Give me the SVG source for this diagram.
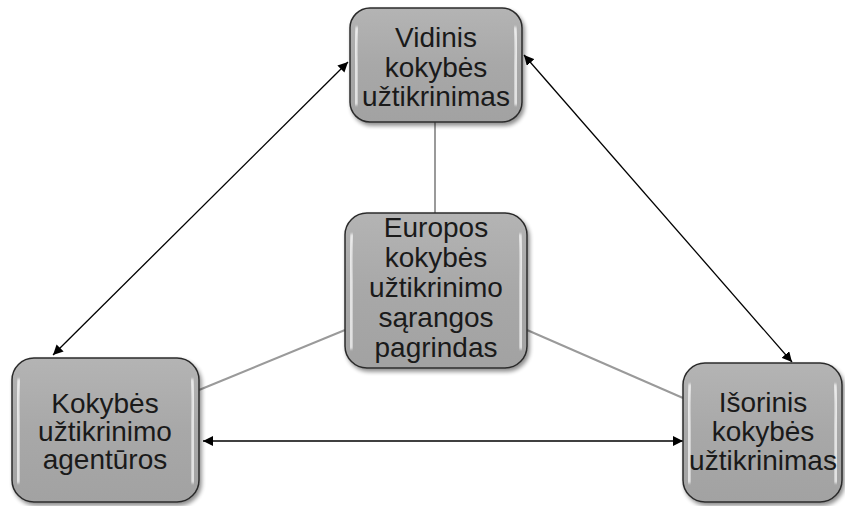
<svg xmlns="http://www.w3.org/2000/svg" width="845" height="506" viewBox="0 0 845 506">
<defs>
  <linearGradient id="fillg" x1="0" y1="0" x2="0" y2="1">
    <stop offset="0" stop-color="#b4b4b4"/>
    <stop offset="0.5" stop-color="#a8a8a8"/>
    <stop offset="1" stop-color="#a2a2a2"/>
  </linearGradient>
  <filter id="shadow" x="-10%" y="-10%" width="125%" height="125%">
    <feGaussianBlur in="SourceAlpha" stdDeviation="2"/>
    <feOffset dx="2" dy="3" result="b"/>
    <feComponentTransfer><feFuncA type="linear" slope="0.45"/></feComponentTransfer>
    <feMerge><feMergeNode/><feMergeNode in="SourceGraphic"/></feMerge>
  </filter>
  <filter id="soft"><feGaussianBlur stdDeviation="0.8"/></filter>
  <marker id="ah" viewBox="0 0 10 10" refX="10" refY="5" markerWidth="10" markerHeight="10" markerUnits="userSpaceOnUse" orient="auto-start-reverse">
    <path d="M0,0 L10,5 L0,10 Z" fill="#000"/>
  </marker>
</defs>
<style>
  .box { fill: url(#fillg); stroke: #2b2b2b; stroke-width: 1.5; filter: url(#shadow); }
  .hl { fill: none; stroke: #ffffff; stroke-width: 3; stroke-linecap: round; opacity: 0.9; filter: url(#soft); }
  .lbl { font-family: "Liberation Sans", Arial, sans-serif; font-size: 28px; fill: #1a1a1a; text-anchor: middle; }
  .gl { stroke: #9a9a9a; stroke-width: 2; fill: none; }
  .ar { stroke: #000; stroke-width: 1.3; fill: none; marker-start: url(#ah); marker-end: url(#ah); }
</style>
<g id="connectors">
  <line class="gl" x1="435" y1="122" x2="435" y2="213"/>
  <line class="gl" x1="345" y1="330" x2="199" y2="390"/>
  <line class="gl" x1="527" y1="330" x2="683" y2="398"/>
  <line class="ar" x1="348" y1="62" x2="53" y2="355"/>
  <line class="ar" x1="524" y1="55" x2="792" y2="362"/>
  <line class="ar" x1="203" y1="441" x2="683" y2="441"/>
</g>
<g id="node-vidinis">
  <rect class="box" x="350" y="8" width="172" height="114" rx="20"/>
  <path class="hl" d="M357,28 Q355,40 356,65 L356,104"/>
  <path class="hl" d="M515,28 Q517,40 516,65 L516,104"/>
  <text class="lbl" x="436" y="47">Vidinis</text>
  <text class="lbl" x="436" y="77">kokybės</text>
  <text class="lbl" x="436" y="106">užtikrinimas</text>
</g>
<g id="node-europos">
  <rect class="box" x="345" y="213" width="182" height="155" rx="22"/>
  <path class="hl" d="M352,235 Q350,250 351,280 L351,348"/>
  <path class="hl" d="M520,235 Q522,250 521,280 L521,348"/>
  <text class="lbl" x="436" y="237">Europos</text>
  <text class="lbl" x="436" y="267">kokybės</text>
  <text class="lbl" x="436" y="297">užtikrinimo</text>
  <text class="lbl" x="436" y="327">sąrangos</text>
  <text class="lbl" x="436" y="357">pagrindas</text>
</g>
<g id="node-agenturos">
  <rect class="box" x="12" y="358" width="187" height="144" rx="22"/>
  <path class="hl" d="M19,380 Q17,395 18,420 L18,482"/>
  <path class="hl" d="M192,380 Q194,395 193,420 L193,482"/>
  <text class="lbl" x="105" y="413">Kokybės</text>
  <text class="lbl" x="105" y="441">užtikrinimo</text>
  <text class="lbl" x="105" y="469">agentūros</text>
</g>
<g id="node-isorinis">
  <rect class="box" x="683" y="363" width="159" height="139" rx="22"/>
  <path class="hl" d="M690,385 Q688,400 689,425 L689,482"/>
  <path class="hl" d="M835,385 Q837,400 836,425 L836,482"/>
  <text class="lbl" x="763" y="412">Išorinis</text>
  <text class="lbl" x="763" y="441">kokybės</text>
  <text class="lbl" x="763" y="470">užtikrinimas</text>
</g>
</svg>
